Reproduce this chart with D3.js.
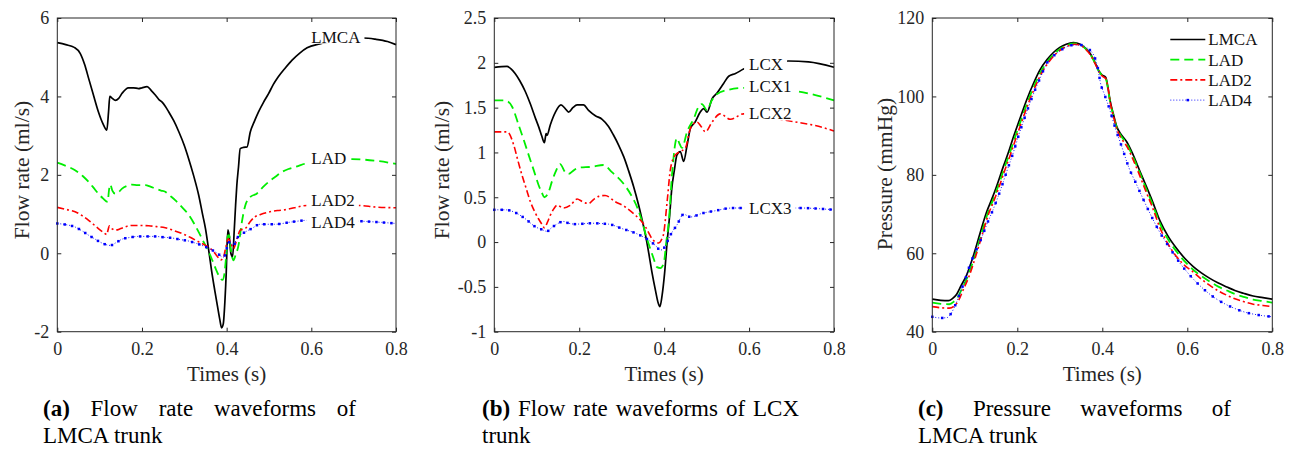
<!DOCTYPE html>
<html>
<head>
<meta charset="utf-8">
<script src="https://cdn.jsdelivr.net/npm/d3@7"></script>
<style>
  body { margin: 0; background: #fff; }
  svg text { font-family: "Liberation Serif", "Times New Roman", serif; }
</style>
</head>
<body>
<svg id="chart" width="1293" height="449"></svg>
<script>
// ---- data ----
const xTicks = [0, 0.2, 0.4, 0.6, 0.8];
const yTicksA = [-2, 0, 2, 4, 6];
const yTicksB = [-1, -0.5, 0, 0.5, 1, 1.5, 2, 2.5];
const yTicksC = [40, 60, 80, 100, 120];

// (a) flow rate, LMCA trunk  [time s, ml/s]
const flowLMCA = [[0,5.37],[0.02,5.32],[0.04,5.25],[0.054,5.1],[0.065,4.8],[0.074,4.46],[0.085,4.05],[0.097,3.61],[0.108,3.3],[0.117,3.14],[0.121,3.6],[0.124,4.0],[0.13,3.95],[0.137,3.9],[0.145,3.95],[0.153,4.08],[0.168,4.22],[0.18,4.22],[0.192,4.2],[0.2,4.22],[0.212,4.25],[0.222,4.15],[0.232,4.03],[0.24,3.92],[0.247,3.86],[0.255,3.75],[0.263,3.61],[0.275,3.38],[0.287,3.1],[0.3,2.75],[0.31,2.42],[0.322,1.98],[0.334,1.48],[0.343,1.0],[0.35,0.63],[0.358,0.05],[0.366,-0.56],[0.372,-0.95],[0.378,-1.33],[0.384,-1.7],[0.388,-1.9],[0.392,-1.8],[0.396,-1.2],[0.399,-0.5],[0.401,0.2],[0.403,0.6],[0.406,0.45],[0.41,0.0],[0.414,-0.09],[0.418,0.6],[0.421,1.2],[0.424,1.73],[0.428,2.2],[0.432,2.67],[0.44,2.7],[0.448,2.71],[0.456,3.1],[0.465,3.35],[0.475,3.6],[0.487,3.85],[0.499,4.07],[0.51,4.3],[0.522,4.5],[0.538,4.72],[0.554,4.92],[0.572,5.1],[0.59,5.24],[0.62,5.34],[0.66,5.42],[0.7,5.48],[0.723,5.49],[0.751,5.46],[0.78,5.4],[0.8,5.32]];
const flowLAD = [[0,2.31],[0.02,2.23],[0.042,2.12],[0.06,1.97],[0.074,1.82],[0.085,1.68],[0.097,1.52],[0.108,1.4],[0.119,1.31],[0.122,1.6],[0.125,1.75],[0.13,1.6],[0.137,1.52],[0.145,1.56],[0.153,1.65],[0.165,1.72],[0.176,1.75],[0.19,1.74],[0.208,1.74],[0.22,1.7],[0.232,1.65],[0.245,1.6],[0.255,1.57],[0.265,1.48],[0.279,1.35],[0.295,1.17],[0.311,0.97],[0.322,0.78],[0.334,0.54],[0.345,0.3],[0.354,0.12],[0.364,-0.12],[0.374,-0.39],[0.382,-0.58],[0.39,-0.68],[0.395,-0.5],[0.399,-0.05],[0.403,0.45],[0.406,0.46],[0.41,0.1],[0.416,-0.18],[0.421,-0.05],[0.428,0.2],[0.436,0.8],[0.444,1.22],[0.456,1.44],[0.471,1.52],[0.485,1.68],[0.499,1.82],[0.515,1.95],[0.53,2.07],[0.546,2.15],[0.562,2.2],[0.593,2.31],[0.63,2.36],[0.66,2.38],[0.696,2.4],[0.751,2.36],[0.8,2.28]];
const flowLAD2 = [[0,1.17],[0.02,1.12],[0.042,1.06],[0.06,0.95],[0.074,0.84],[0.085,0.74],[0.097,0.63],[0.108,0.54],[0.117,0.48],[0.12,0.6],[0.123,0.7],[0.13,0.62],[0.137,0.59],[0.15,0.63],[0.165,0.69],[0.176,0.71],[0.195,0.71],[0.216,0.7],[0.235,0.68],[0.255,0.65],[0.275,0.58],[0.295,0.5],[0.315,0.4],[0.334,0.29],[0.35,0.2],[0.366,0.08],[0.378,-0.08],[0.386,-0.17],[0.392,-0.12],[0.397,0.1],[0.404,0.37],[0.41,0.25],[0.416,0.12],[0.424,0.35],[0.432,0.59],[0.444,0.63],[0.455,0.8],[0.467,0.93],[0.48,0.99],[0.499,1.05],[0.52,1.09],[0.538,1.11],[0.56,1.16],[0.59,1.22],[0.63,1.22],[0.66,1.22],[0.712,1.22],[0.751,1.18],[0.8,1.16]];
const flowLAD4 = [[0,0.76],[0.02,0.73],[0.042,0.67],[0.06,0.56],[0.074,0.46],[0.085,0.39],[0.097,0.31],[0.11,0.24],[0.125,0.2],[0.14,0.28],[0.153,0.36],[0.17,0.4],[0.192,0.43],[0.21,0.43],[0.232,0.43],[0.25,0.41],[0.271,0.39],[0.29,0.35],[0.311,0.31],[0.326,0.26],[0.342,0.2],[0.355,0.14],[0.366,0.08],[0.378,0.0],[0.392,-0.1],[0.398,0.0],[0.404,0.29],[0.41,0.24],[0.416,0.2],[0.424,0.38],[0.432,0.46],[0.445,0.55],[0.459,0.63],[0.479,0.74],[0.514,0.74],[0.554,0.8],[0.59,0.84],[0.66,0.83],[0.712,0.82],[0.8,0.76]];

// (b) flow rate, LCX trunk
const flowLCX = [[0,1.95],[0.03,1.96],[0.04,1.93],[0.049,1.88],[0.06,1.8],[0.073,1.68],[0.085,1.54],[0.097,1.38],[0.105,1.28],[0.112,1.18],[0.118,1.11],[0.122,1.21],[0.124,1.19],[0.132,1.31],[0.144,1.45],[0.157,1.53],[0.167,1.49],[0.175,1.45],[0.185,1.5],[0.195,1.53],[0.21,1.53],[0.222,1.47],[0.238,1.41],[0.254,1.37],[0.269,1.29],[0.28,1.2],[0.293,1.08],[0.305,0.95],[0.316,0.8],[0.328,0.62],[0.34,0.41],[0.348,0.25],[0.356,0.08],[0.364,-0.13],[0.371,-0.33],[0.38,-0.55],[0.386,-0.68],[0.39,-0.72],[0.395,-0.6],[0.401,-0.35],[0.407,0.0],[0.413,0.3],[0.418,0.6],[0.424,0.8],[0.43,0.97],[0.438,1.01],[0.446,0.9],[0.454,1.08],[0.462,1.27],[0.473,1.34],[0.485,1.45],[0.493,1.49],[0.501,1.45],[0.513,1.6],[0.524,1.66],[0.54,1.77],[0.552,1.85],[0.568,1.88],[0.587,1.93],[0.63,1.98],[0.66,2.0],[0.693,2.02],[0.74,2.01],[0.8,1.95]];
const flowLCX1 = [[0,1.58],[0.026,1.58],[0.042,1.51],[0.057,1.31],[0.07,1.13],[0.081,0.97],[0.093,0.8],[0.104,0.64],[0.112,0.55],[0.118,0.5],[0.128,0.56],[0.136,0.68],[0.144,0.78],[0.155,0.87],[0.167,0.78],[0.175,0.76],[0.187,0.8],[0.199,0.83],[0.23,0.84],[0.257,0.86],[0.277,0.78],[0.301,0.67],[0.324,0.51],[0.338,0.37],[0.348,0.23],[0.358,0.06],[0.367,-0.07],[0.375,-0.18],[0.383,-0.28],[0.391,-0.29],[0.399,-0.24],[0.405,0.0],[0.411,0.23],[0.419,0.78],[0.43,1.16],[0.436,1.1],[0.442,1.05],[0.454,1.23],[0.47,1.38],[0.481,1.51],[0.489,1.54],[0.501,1.47],[0.511,1.57],[0.521,1.64],[0.552,1.7],[0.587,1.72],[0.63,1.72],[0.66,1.71],[0.717,1.68],[0.756,1.64],[0.8,1.58]];
const flowLCX2 = [[0,1.23],[0.03,1.23],[0.046,1.08],[0.055,0.92],[0.065,0.75],[0.075,0.6],[0.085,0.45],[0.095,0.34],[0.104,0.26],[0.112,0.2],[0.118,0.16],[0.125,0.22],[0.132,0.3],[0.14,0.37],[0.148,0.41],[0.163,0.38],[0.179,0.41],[0.195,0.48],[0.208,0.45],[0.222,0.43],[0.235,0.48],[0.246,0.51],[0.261,0.52],[0.285,0.45],[0.309,0.39],[0.332,0.3],[0.345,0.24],[0.356,0.17],[0.364,0.1],[0.371,0.04],[0.38,0.0],[0.387,-0.01],[0.393,0.02],[0.399,0.1],[0.407,0.45],[0.415,0.82],[0.426,0.97],[0.438,1.01],[0.45,1.05],[0.462,1.27],[0.477,1.34],[0.487,1.29],[0.497,1.23],[0.513,1.34],[0.532,1.43],[0.556,1.37],[0.587,1.43],[0.63,1.4],[0.66,1.38],[0.709,1.34],[0.756,1.3],[0.8,1.24]];
const flowLCX3 = [[0,0.36],[0.026,0.36],[0.049,0.33],[0.073,0.26],[0.097,0.17],[0.112,0.14],[0.124,0.12],[0.135,0.16],[0.144,0.19],[0.163,0.23],[0.175,0.21],[0.191,0.2],[0.23,0.21],[0.269,0.2],[0.301,0.15],[0.332,0.1],[0.364,0.02],[0.38,-0.04],[0.391,-0.09],[0.399,-0.07],[0.407,0.0],[0.415,0.08],[0.43,0.19],[0.446,0.31],[0.462,0.28],[0.489,0.32],[0.521,0.35],[0.56,0.38],[0.587,0.38],[0.66,0.38],[0.72,0.38],[0.8,0.36]];

// (c) pressure, LMCA trunk [time s, mmHg]
const presLMCA = [[0,48.3],[0.02,48.0],[0.038,47.9],[0.048,48.5],[0.057,49.5],[0.068,51.8],[0.081,54.5],[0.097,59.5],[0.112,65],[0.128,70.6],[0.14,73.8],[0.152,77.3],[0.167,82.1],[0.18,86],[0.191,89.7],[0.205,94],[0.222,99.1],[0.238,103.3],[0.253,106.7],[0.27,109.4],[0.285,111.2],[0.3,112.5],[0.315,113.3],[0.332,113.7],[0.348,113.3],[0.36,112.3],[0.371,111],[0.382,108.8],[0.391,106.7],[0.399,105.5],[0.408,104.9],[0.413,102.5],[0.418,99.1],[0.426,95.5],[0.434,92.3],[0.445,90.2],[0.457,88.5],[0.473,85],[0.489,80.8],[0.503,77.2],[0.516,73.8],[0.536,68.2],[0.555,64.3],[0.575,61.2],[0.595,58.6],[0.614,56.6],[0.633,55],[0.653,53.6],[0.673,52.4],[0.693,51.4],[0.712,50.5],[0.732,49.8],[0.755,49.1],[0.778,48.7],[0.8,48.3]];
const presLAD = [[0,47.4],[0.02,47.1],[0.04,47.0],[0.05,47.6],[0.06,48.8],[0.07,51],[0.084,54.3],[0.1,59.3],[0.115,64.8],[0.131,70.4],[0.143,73.6],[0.155,77.1],[0.17,81.9],[0.183,85.8],[0.194,89.4],[0.208,93.7],[0.225,98.8],[0.241,103],[0.256,106.4],[0.273,109.2],[0.288,111],[0.303,112.3],[0.318,113.1],[0.334,113.5],[0.35,113.1],[0.361,112.1],[0.372,110.7],[0.383,108.5],[0.392,106.4],[0.4,105.3],[0.408,104.6],[0.413,102.2],[0.418,98.8],[0.426,95.2],[0.434,92],[0.445,89.8],[0.457,88],[0.473,84.4],[0.489,80.3],[0.503,76.5],[0.516,73.1],[0.536,67.5],[0.555,63.5],[0.575,60.4],[0.595,57.8],[0.614,55.8],[0.633,54.2],[0.653,52.8],[0.673,51.5],[0.693,50.5],[0.712,49.6],[0.732,48.9],[0.755,48.2],[0.778,47.8],[0.8,47.4]];
const presLAD2 = [[0,46.4],[0.02,46.1],[0.04,46.0],[0.052,46.6],[0.062,48],[0.072,50.5],[0.086,54],[0.102,59.2],[0.117,64.6],[0.133,70.2],[0.145,73.4],[0.157,76.9],[0.172,81.6],[0.185,85.5],[0.196,89.1],[0.21,93.4],[0.227,98.5],[0.243,102.7],[0.258,106.1],[0.275,108.9],[0.29,110.8],[0.305,112.1],[0.32,112.9],[0.336,113.3],[0.351,112.9],[0.362,111.9],[0.373,110.4],[0.384,108.2],[0.393,106.1],[0.401,105.1],[0.409,104.4],[0.414,101.8],[0.419,98.3],[0.427,94.6],[0.435,91.4],[0.446,89.1],[0.458,87.2],[0.474,83.5],[0.49,79.3],[0.504,75.4],[0.517,72],[0.536,66.4],[0.555,62.3],[0.575,59.1],[0.595,56.8],[0.614,55.2],[0.633,53.4],[0.653,51.8],[0.673,50.4],[0.693,49.3],[0.712,48.4],[0.732,47.7],[0.755,47.0],[0.778,46.7],[0.8,46.4]];
const presLAD4 = [[0,43.8],[0.02,43.5],[0.035,43.6],[0.045,44.8],[0.055,47],[0.065,49.8],[0.078,53.5],[0.089,57.2],[0.1,60],[0.112,62.9],[0.128,67.3],[0.144,71.4],[0.16,76],[0.175,80.8],[0.19,85.5],[0.206,91],[0.222,96],[0.24,101.2],[0.255,105],[0.269,108.4],[0.285,110.3],[0.3,111.6],[0.315,112.6],[0.332,113.1],[0.352,113.1],[0.362,112.5],[0.371,111.8],[0.383,109.7],[0.39,107],[0.395,103.8],[0.405,100.5],[0.414,97.8],[0.431,91.8],[0.447,86.8],[0.463,81.7],[0.479,77.9],[0.495,74.1],[0.512,70.2],[0.535,65.4],[0.559,61.3],[0.582,57.6],[0.606,54.4],[0.633,51.4],[0.661,48.9],[0.69,47],[0.71,46],[0.732,45.1],[0.765,44.3],[0.8,43.8]];

// ---- drawing ----
const svg = d3.select("#chart");
const plotTop = 18, plotBottom = 331.7;
const axisColor = "#262626";

const styles = {
  black: { color: "#000000", dash: null, width: 1.7 },
  green: { color: "#00ee00", dash: "9,5", width: 1.8 },
  red:   { color: "#ff0000", dash: "7,3,2,3", width: 1.6 },
  blue:  { color: "#0000ff", dash: "1,2", width: 0.9, markers: true }
};

function drawLine(g, data, x, y, st, markStep) {
  const line = d3.line().x(d => x(d[0])).y(d => y(d[1])).curve(d3.curveMonotoneX);
  const path = g.append("path")
    .attr("d", line(data))
    .attr("fill", "none")
    .attr("stroke", st.color)
    .attr("stroke-width", st.width)
    .attr("stroke-dasharray", st.dash);
  if (st.markers) {
    const node = path.node();
    const len = node.getTotalLength();
    for (let l = 0; l <= len; l += markStep) {
      const p = node.getPointAtLength(l);
      g.append("rect").attr("x", p.x - 1.25).attr("y", p.y - 1.25)
        .attr("width", 2.5).attr("height", 2.5).attr("fill", st.color);
    }
  }
}

function valueAt(data, t) {
  const i = d3.bisector(d => d[0]).left(data, t);
  if (i <= 0) return data[0][1];
  const a = data[i - 1], b = data[i];
  return a[1] + (b[1] - a[1]) * (t - a[0]) / (b[0] - a[0]);
}

function drawPanel(p) {
  const x = d3.scaleLinear().domain([0, 0.8]).range([p.left, p.right]);
  const y = d3.scaleLinear().domain(p.yDomain).range([plotBottom, plotTop]);
  const g = svg.append("g");

  const fmt = d => String(d);
  const axes = [
    [d3.axisBottom(x).tickValues(xTicks).tickFormat(fmt).tickPadding(11), `translate(0,${plotBottom})`],
    [d3.axisTop(x).tickValues(xTicks).tickFormat(""), `translate(0,${plotTop})`],
    [d3.axisLeft(y).tickValues(p.yTicks).tickFormat(fmt).tickPadding(8), `translate(${p.left},0)`],
    [d3.axisRight(y).tickValues(p.yTicks).tickFormat(""), `translate(${p.right},0)`]
  ];
  axes.forEach(([ax, tr]) => {
    const a = g.append("g").attr("transform", tr)
      .call(ax.tickSizeInner(-4).tickSizeOuter(0))
      .attr("font-family", null).attr("font-size", 18);
    a.select(".domain").remove();
    a.selectAll("line").attr("stroke", axisColor);
    a.selectAll("text").attr("fill", axisColor);
  });

  // curves
  p.series.forEach(s => drawLine(g, s.data, x, y, styles[s.style], p.markStep));

  // in-plot labels with white backing
  if (p.labelT != null) {
    p.series.forEach(s => {
      const ly = y(valueAt(s.data, p.labelT + 0.06)) + s.labelDy;
      const t = g.append("text").attr("x", x(p.labelT)).attr("y", ly).attr("dy", "0.35em")
        .attr("font-size", 17).attr("fill", "#111").text(s.name);
      const w = t.node().getComputedTextLength();
      g.insert("rect", () => t.node())
        .attr("x", x(p.labelT) - 5).attr("y", ly - 7)
        .attr("width", w + 9).attr("height", 14).attr("fill", "#fff");
    });
  }

  // legend (panel c)
  if (p.legend) {
    p.series.forEach((s, i) => {
      const ly = 39.5 + i * 20.2;
      const st = styles[s.style];
      const lx0 = p.right - 102, lx1 = p.right - 67;
      g.append("line").attr("x1", lx0).attr("x2", lx1).attr("y1", ly).attr("y2", ly)
        .attr("stroke", st.color).attr("stroke-width", st.width).attr("stroke-dasharray", st.dash);
      if (st.markers) {
        g.append("rect").attr("x", (lx0 + lx1) / 2 - 1.25).attr("y", ly - 1.25)
          .attr("width", 2.5).attr("height", 2.5).attr("fill", st.color);
      }
      g.append("text").attr("x", lx1 + 3).attr("y", ly).attr("dy", "0.35em")
        .attr("font-size", 17).attr("fill", "#111").text(s.name);
    });
  }

  // box
  g.append("rect").attr("x", p.left).attr("y", plotTop)
    .attr("width", p.right - p.left).attr("height", plotBottom - plotTop)
    .attr("fill", "none").attr("stroke", axisColor).attr("stroke-width", 1);

  // axis titles
  g.append("text").attr("x", (p.left + p.right) / 2).attr("y", 381)
    .attr("text-anchor", "middle").attr("font-size", 21).attr("fill", axisColor).text("Times (s)");
  g.append("text")
    .attr("transform", `translate(${p.yTitleX},${p.yTitleY}) rotate(-90)`)
    .attr("text-anchor", "middle").attr("dy", "0.35em")
    .attr("font-size", 21.5).attr("fill", axisColor).text(p.yTitle);

  // caption (first line justified)
  const cap = svg.append("g").attr("font-size", 23).attr("fill", "#000");
  const words = p.caption[0];
  const nodes = words.map((w, i) => cap.append("text").attr("y", 416)
    .attr("font-weight", i === 0 ? "bold" : null).text(w));
  const widths = nodes.map(n => n.node().getComputedTextLength());
  const gap = (p.capWidth - d3.sum(widths)) / (words.length - 1);
  let cx = p.capX;
  nodes.forEach((n, i) => { n.attr("x", cx); cx += widths[i] + gap; });
  cap.append("text").attr("x", p.capX).attr("y", 443).text(p.caption[1]);
}

drawPanel({
  left: 57.3, right: 396, yDomain: [-2, 6], yTicks: yTicksA,
  yTitle: "Flow rate (ml/s)", yTitleX: 21.5, yTitleY: 170, labelT: 0.6, markStep: 7.5,
  series: [
    { name: "LMCA", data: flowLMCA, style: "black", labelDy: -4 },
    { name: "LAD", data: flowLAD, style: "green", labelDy: -2 },
    { name: "LAD2", data: flowLAD2, style: "red", labelDy: -5 },
    { name: "LAD4", data: flowLAD4, style: "blue", labelDy: 1 }
  ],
  caption: [["(a)", "Flow", "rate", "waveforms", "of"], "LMCA trunk"], capX: 43, capWidth: 313
});

drawPanel({
  left: 494.3, right: 834, yDomain: [-1, 2.5], yTicks: yTicksB,
  yTitle: "Flow rate (ml/s)", yTitleX: 441.5, yTitleY: 170, labelT: 0.6, markStep: 7.5,
  series: [
    { name: "LCX", data: flowLCX, style: "black", labelDy: 1 },
    { name: "LCX1", data: flowLCX1, style: "green", labelDy: -3 },
    { name: "LCX2", data: flowLCX2, style: "red", labelDy: -5 },
    { name: "LCX3", data: flowLCX3, style: "blue", labelDy: 0 }
  ],
  caption: [["(b)", "Flow", "rate", "waveforms", "of", "LCX"], "trunk"], capX: 482, capWidth: 317
});

drawPanel({
  left: 932.3, right: 1272.3, yDomain: [40, 120], yTicks: yTicksC,
  yTitle: "Pressure (mmHg)", yTitleX: 884, yTitleY: 174, labelT: null, legend: true, markStep: 10,
  series: [
    { name: "LMCA", data: presLMCA, style: "black" },
    { name: "LAD", data: presLAD, style: "green" },
    { name: "LAD2", data: presLAD2, style: "red" },
    { name: "LAD4", data: presLAD4, style: "blue" }
  ],
  caption: [["(c)", "Pressure", "waveforms", "of"], "LMCA trunk"], capX: 918, capWidth: 313
});
</script>
</body>
</html>
